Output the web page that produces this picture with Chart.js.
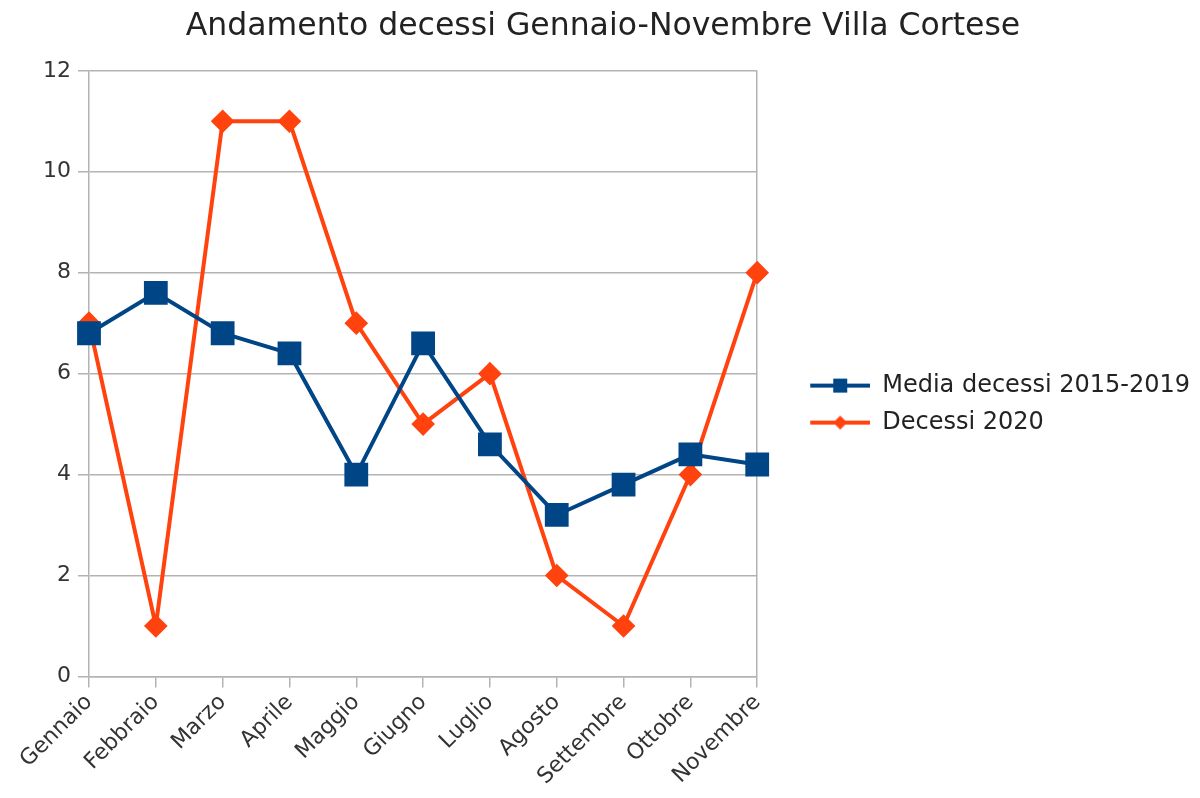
<!DOCTYPE html>
<html>
<head>
<meta charset="utf-8">
<script src="https://cdn.jsdelivr.net/npm/chart.js@4.4.0/dist/chart.umd.min.js"></script>
<style>
  html, body { margin: 0; padding: 0; background: #fff; }
  #wrap { width: 1200px; height: 798px; }
</style>
</head>
<body>
<div id="wrap"><canvas id="andamento"></canvas></div>
<script>
var mesi = ['Gennaio', 'Febbraio', 'Marzo', 'Aprile', 'Maggio', 'Giugno', 'Luglio', 'Agosto', 'Settembre', 'Ottobre', 'Novembre'];
var media = [6.8, 7.6, 6.8, 6.4, 4.0, 6.6, 4.6, 3.2, 3.8, 4.4, 4.2];
var decessi2020 = [7, 1, 11, 11, 7, 5, 6, 2, 1, 4, 8];
var yTicks = [0, 2, 4, 6, 8, 10, 12];

var blu = '#004586';
var arancio = '#ff420e';
var grigio = '#b3b3b3';
var font = 'DejaVu Sans, Verdana, sans-serif';

// legend icon: line with marker in the middle (blank space on the left = gap from the plot)
function iconaLegenda(color, style) {
    var c = document.createElement('canvas');
    c.width = 100;
    c.height = 22;
    var g = c.getContext('2d');
    g.strokeStyle = color;
    g.fillStyle = color;
    g.lineWidth = 4;
    g.beginPath();
    g.moveTo(40, 11);
    g.lineTo(100, 11);
    g.stroke();
    g.beginPath();
    if (style === 'rect') {
        g.rect(63, 4, 14, 14);
    } else {
        g.moveTo(70, 4);
        g.lineTo(77, 11);
        g.lineTo(70, 18);
        g.lineTo(63, 11);
        g.closePath();
    }
    g.fill();
    return c;
}

var icone = [iconaLegenda(blu, 'rect'), iconaLegenda(arancio, 'diamond')];

var ctx = document.getElementById('andamento');

var myChart = new Chart(ctx, {
    type: 'line',
    data: {
        labels: mesi,
        datasets: [{
            label: 'Media decessi 2015-2019',
            data: media,
            borderColor: blu,
            backgroundColor: blu,
            borderWidth: 4,
            pointStyle: 'rect',
            pointRadius: 14,
            pointHoverRadius: 14,
            tension: 0
        }, {
            label: 'Decessi 2020',
            data: decessi2020,
            borderColor: arancio,
            backgroundColor: arancio,
            borderWidth: 4,
            pointStyle: 'rectRot',
            pointRadius: 9,
            pointHoverRadius: 9,
            tension: 0
        }]
    },
    options: {
        responsive: true,
        maintainAspectRatio: false,
        animation: false,
        layout: {
            padding: { top: 4, left: 6, right: 0, bottom: 6 }
        },
        scales: {
            x: {
                offset: false,
                grid: {
                    drawOnChartArea: true,
                    color: function(c) {
                        return c.index === mesi.length - 1 ? grigio : 'rgba(0,0,0,0)';
                    },
                    tickColor: grigio,
                    tickLength: 11,
                    lineWidth: 1.5
                },
                border: { color: grigio, width: 1.5 },
                ticks: {
                    minRotation: 45,
                    maxRotation: 45,
                    color: '#333',
                    padding: 2,
                    font: { family: font, size: 22 }
                }
            },
            y: {
                min: 0,
                max: 12,
                afterBuildTicks: function(axis) {
                    axis.ticks = yTicks.map(function(v) { return { value: v }; });
                },
                afterFit: function(axis) {
                    axis.width = 83;
                },
                grid: {
                    color: grigio,
                    tickColor: grigio,
                    tickLength: 11,
                    lineWidth: 1.5
                },
                border: { color: grigio, width: 1.5 },
                ticks: {
                    color: '#333',
                    padding: 7,
                    font: { family: font, size: 22 }
                }
            }
        },
        plugins: {
            title: {
                display: true,
                text: 'Andamento decessi Gennaio-Novembre Villa Cortese',
                color: '#222',
                font: { family: font, size: 31.5, weight: 'normal' },
                padding: { top: 4, bottom: 25 }
            },
            legend: {
                position: 'right',
                align: 'center',
                maxWidth: 460,
                // empty title only to push the items a bit lower
                title: {
                    display: true,
                    text: '',
                    color: '#222',
                    font: { size: 1 },
                    padding: { top: 11, bottom: 0 }
                },
                labels: {
                    usePointStyle: true,
                    pointStyleWidth: 100,
                    boxHeight: 22,
                    padding: 13,
                    color: '#222',
                    font: { family: font, size: 24 },
                    generateLabels: function(chart) {
                        return chart.data.datasets.map(function(ds, i) {
                            return {
                                text: ds.label,
                                pointStyle: icone[i],
                                fillStyle: ds.backgroundColor,
                                strokeStyle: ds.borderColor,
                                fontColor: '#222',
                                lineWidth: 0,
                                datasetIndex: i,
                                hidden: false
                            };
                        });
                    }
                }
            },
            tooltip: { enabled: false }
        }
    }
});
</script>
</body>
</html>
